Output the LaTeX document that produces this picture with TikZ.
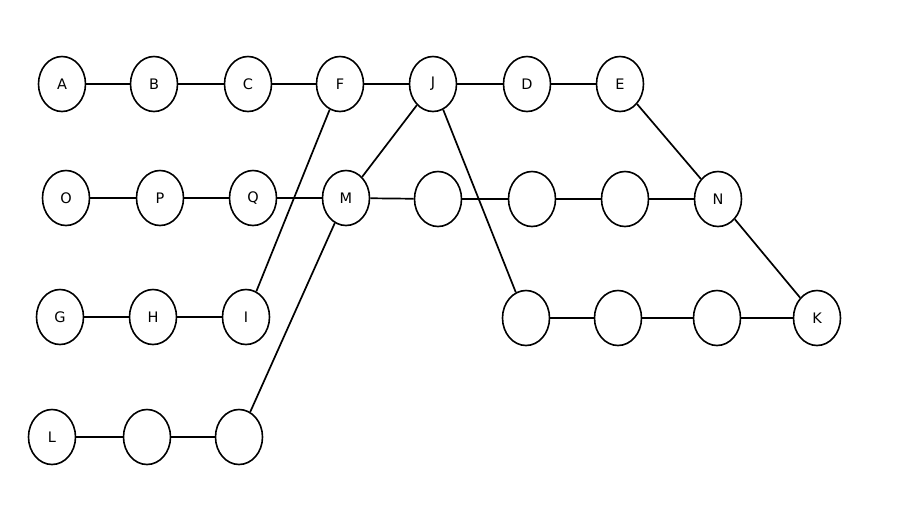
\documentclass[tikz,border=0pt]{standalone}
\usepackage{fontspec}
\setmainfont{DejaVu Sans}
\usetikzlibrary{shapes.geometric}
\begin{document}
\begin{tikzpicture}[x=1pt,y=-1pt,
  nd/.style={draw, line width=1.6pt, ellipse, minimum width=47pt, minimum height=55pt, inner sep=0pt, font=\fontsize{14.5}{14.5}\selectfont},
  ln/.style={line width=1.7pt}]
\useasboundingbox (0,0) rectangle (899,515);
% row 1
\node[nd] (A) at (62,84) {A};
\node[nd] (B) at (154,84) {B};
\node[nd] (C) at (248,84) {C};
\node[nd] (F) at (340,84) {F};
\node[nd] (J) at (433,84) {J};
\node[nd] (D) at (527,84) {D};
\node[nd] (E) at (620,84) {E};
% row 2
\node[nd] (O) at (66,198) {O};
\node[nd] (P) at (160,198) {P};
\node[nd] (Q) at (253,198) {Q};
\node[nd] (M) at (346,198) {M};
\node[nd] (b1) at (438,199) {};
\node[nd] (b2) at (532,199) {};
\node[nd] (b3) at (625,199) {};
\node[nd] (N) at (718,199) {N};
% row 3
\node[nd] (G) at (60,317) {G};
\node[nd] (H) at (153,317) {H};
\node[nd] (I) at (246,317) {I};
\node[nd] (r1) at (526,318) {};
\node[nd] (r2) at (618,318) {};
\node[nd] (r3) at (717,318) {};
\node[nd] (K) at (817,318) {K};
% row 4
\node[nd] (L) at (52,437) {L};
\node[nd] (l1) at (147,437) {};
\node[nd] (l2) at (239,437) {};
% edges
\draw[ln] (A) -- (B);
\draw[ln] (B) -- (C);
\draw[ln] (C) -- (F);
\draw[ln] (F) -- (J);
\draw[ln] (J) -- (D);
\draw[ln] (D) -- (E);
\draw[ln] (E) -- (N);
\draw[ln] (O) -- (P);
\draw[ln] (P) -- (Q);
\draw[ln] (Q) -- (M);
\draw[ln] (M) -- (b1);
\draw[ln] (b1) -- (b2);
\draw[ln] (b2) -- (b3);
\draw[ln] (b3) -- (N);
\draw[ln] (N) -- (K);
\draw[ln] (G) -- (H);
\draw[ln] (H) -- (I);
\draw[ln] (I) -- (F);
\draw[ln] (L) -- (l1);
\draw[ln] (l1) -- (l2);
\draw[ln] (l2) -- (M);
\draw[ln] (M) -- (J);
\draw[ln] (J) -- (r1);
\draw[ln] (r1) -- (r2);
\draw[ln] (r2) -- (r3);
\draw[ln] (r3) -- (K);
\end{tikzpicture}
\end{document}
